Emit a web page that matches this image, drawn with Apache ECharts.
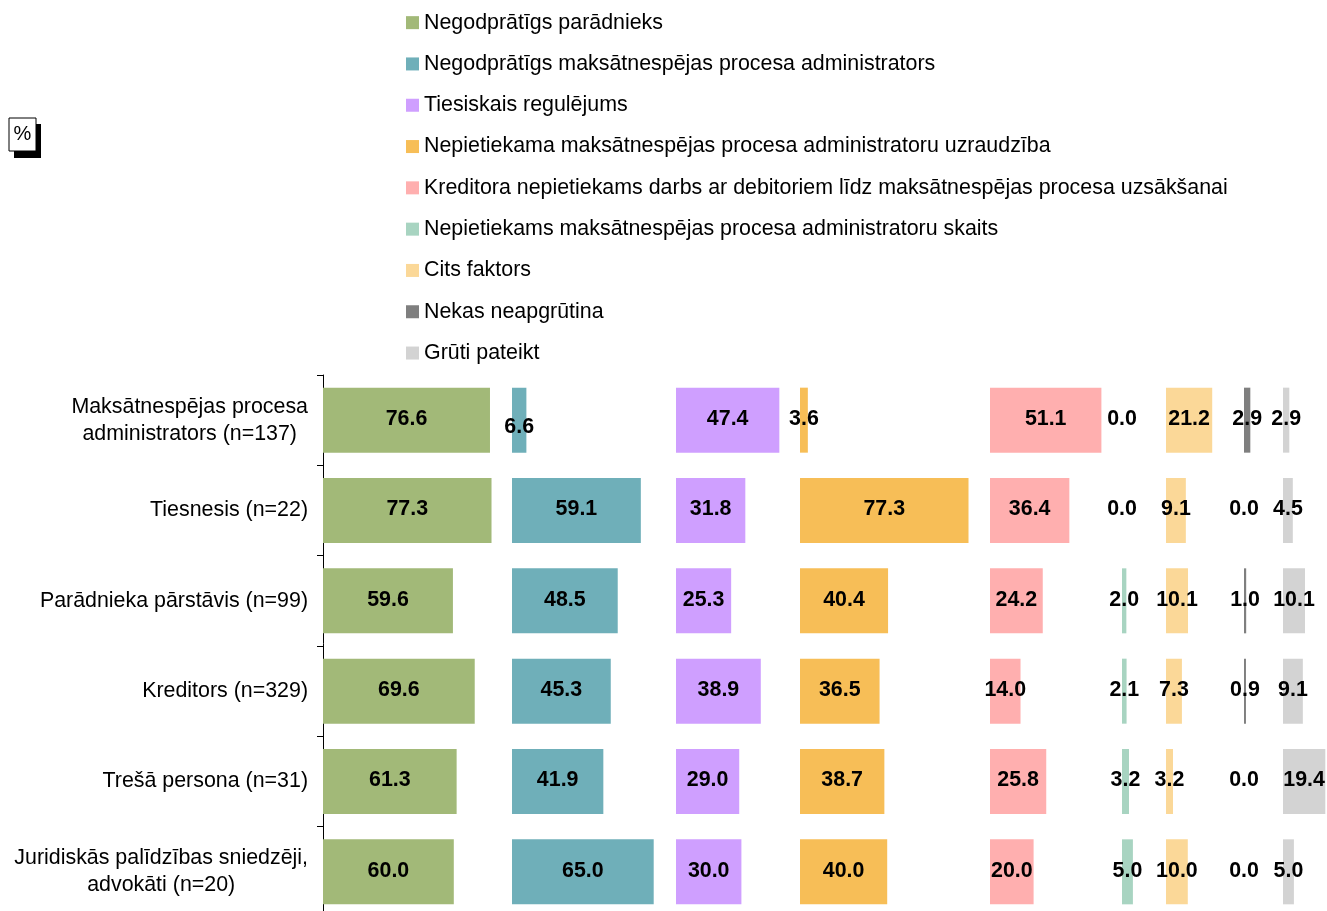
<!DOCTYPE html>
<html>
<head>
<meta charset="utf-8">
<script src="https://cdn.jsdelivr.net/npm/echarts@6/dist/echarts.min.js"></script>
<style>
html,body{margin:0;padding:0;background:#fff;}
#chart{width:1327px;height:911px;}
</style>
</head>
<body>
<div id="chart"></div>
<script>
// ---- data ----
const categories = [
  'Maksātnespējas procesa\nadministrators (n=137)',
  'Tiesnesis (n=22)',
  'Parādnieka pārstāvis (n=99)',
  'Kreditors (n=329)',
  'Trešā persona (n=31)',
  'Juridiskās palīdzības sniedzēji,\nadvokāti (n=20)'
];
const seriesNames = [
  'Negodprātīgs parādnieks',
  'Negodprātīgs maksātnespējas procesa administrators',
  'Tiesiskais regulējums',
  'Nepietiekama maksātnespējas procesa administratoru uzraudzība',
  'Kreditora nepietiekams darbs ar debitoriem līdz maksātnespējas procesa uzsākšanai',
  'Nepietiekams maksātnespējas procesa administratoru skaits',
  'Cits faktors',
  'Nekas neapgrūtina',
  'Grūti pateikt'
];
const negodpratigsParadnieks     = [76.6, 77.3, 59.6, 69.6, 61.3, 60.0];
const negodpratigsAdministrators = [6.6, 59.1, 48.5, 45.3, 41.9, 65.0];
const tiesiskaisRegulejums       = [47.4, 31.8, 25.3, 38.9, 29.0, 30.0];
const nepietiekamaUzraudziba     = [3.6, 77.3, 40.4, 36.5, 38.7, 40.0];
const kreditoraDarbs             = [51.1, 36.4, 24.2, 14.0, 25.8, 20.0];
const administratoruSkaits       = [0.0, 0.0, 2.0, 2.1, 3.2, 5.0];
const citsFaktors                = [21.2, 9.1, 10.1, 7.3, 3.2, 10.0];
const nekasNeapgrutina           = [2.9, 0.0, 1.0, 0.9, 0.0, 0.0];
const grutiPateikt               = [2.9, 4.5, 10.1, 9.1, 19.4, 5.0];

const seriesValues = [
  negodpratigsParadnieks, negodpratigsAdministrators, tiesiskaisRegulejums,
  nepietiekamaUzraudziba, kreditoraDarbs, administratoruSkaits,
  citsFaktors, nekasNeapgrutina, grutiPateikt
];

// ---- layout & style ----
const colors = ['#A2B978', '#6FAFB9', '#CF9FFF', '#F7BE57', '#FFAFAF', '#A8D4C1', '#FBD898', '#7F7F7F', '#D3D3D3'];
const panelLeft = [323, 512, 676, 800, 990, 1122, 1166, 1244, 1283];
const canvasW = 1327;
const pxPerUnit = 2.18;
const gridTop = 375;
const gridHeight = 542;
const FONT = "'Liberation Sans', Arial, sans-serif";
const FS = 21.4;
// small hand-placed label nudges seen in the reference: [seriesIndex, dataIndex, dx, dy]
const labelNudges = [[1, 0, 0, 7]];

const grids = [], xAxes = [], yAxes = [], series = [];
seriesValues.forEach((vals, i) => {
  const right = i < panelLeft.length - 1 ? panelLeft[i + 1] : canvasW;
  const w = right - panelLeft[i];
  grids.push({
    left: panelLeft[i], top: gridTop, width: w, height: gridHeight,
    containLabel: false, outerBoundsMode: 'none'
  });
  xAxes.push({ type: 'value', gridIndex: i, min: 0, max: w / pxPerUnit, show: false });
  if (i === 0) {
    yAxes.push({
      type: 'category', gridIndex: i, data: categories, inverse: true,
      axisLine: { show: true, lineStyle: { color: '#000', width: 1 } },
      axisTick: { show: true, inside: false, length: 6, lineStyle: { color: '#000' } },
      axisLabel: {
        show: true, margin: 15, color: '#000', fontSize: FS, fontFamily: FONT,
        formatter: v => v.split('\n').map(s => '{c|' + s + '}').join('\n'),
        rich: { c: { align: 'center', fontSize: FS, lineHeight: 27, color: '#000', fontFamily: FONT } }
      },
      splitLine: { show: false }
    });
  } else {
    yAxes.push({ type: 'category', gridIndex: i, data: categories, inverse: true, show: false });
  }
  const data = vals.map((v, j) => {
    const item = { value: v };
    labelNudges.forEach(n => { if (n[0] === i && n[1] === j) item.label = { offset: [n[2], n[3]] }; });
    return item;
  });
  series.push({
    name: seriesNames[i], type: 'bar', xAxisIndex: i, yAxisIndex: i,
    barWidth: 65, data: data,
    itemStyle: { color: colors[i] },
    label: {
      show: true, position: 'inside', color: '#000', fontWeight: 'bold',
      fontSize: FS, fontFamily: FONT, offset: [0, -1],
      formatter: p => Number(p.value).toFixed(1)
    },
    emphasis: { disabled: true },
    animation: false
  });
});

const chart = echarts.init(document.getElementById('chart'), null, { renderer: 'canvas' });
chart.setOption({
  backgroundColor: '#fff',
  animation: false,
  color: colors,
  legend: {
    orient: 'vertical', left: 401, top: 7,
    itemWidth: 13, itemHeight: 13, itemGap: 20, icon: 'rect',
    textStyle: { color: '#000', fontSize: FS, fontFamily: FONT, lineHeight: 21.3 },
    data: seriesNames
  },
  graphic: [
    { type: 'rect', shape: { x: 14, y: 124, width: 27, height: 34 }, style: { fill: '#000' } },
    { type: 'rect', shape: { x: 9, y: 118, width: 27, height: 33 }, style: { fill: '#fff', stroke: '#000', lineWidth: 1 } },
    { type: 'text', x: 22.5, y: 134, style: { text: '%', fill: '#000', fontSize: 20, fontFamily: FONT, align: 'center', verticalAlign: 'middle' } }
  ],
  grid: grids,
  xAxis: xAxes,
  yAxis: yAxes,
  series: series
});
</script>
</body>
</html>
